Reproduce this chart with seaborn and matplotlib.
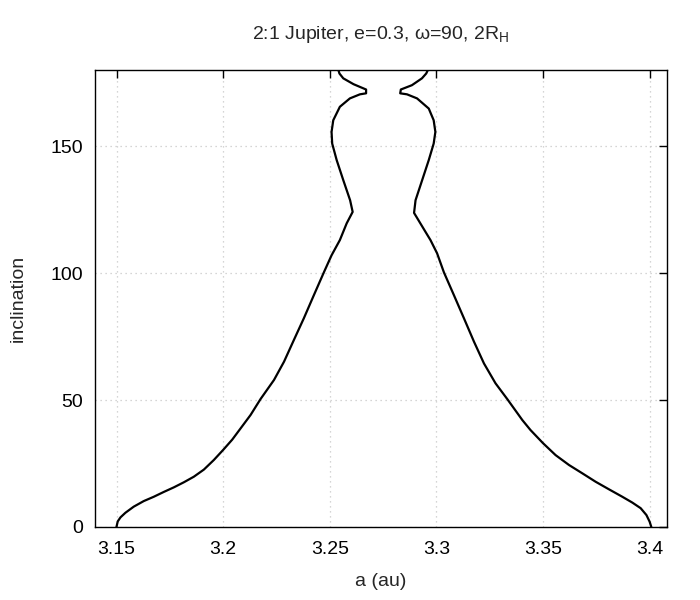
import numpy as np
import pandas as pd
import matplotlib
matplotlib.use('Agg')
import matplotlib.pyplot as plt
import seaborn as sns

# ─────────────────────────────────────────────
# DATA
# ─────────────────────────────────────────────

# left branch, bottom to top
left_a = [3.1499, 3.1505, 3.1518, 3.1541, 3.1580, 3.1627, 3.1674, 3.1721,
          3.1768, 3.1815, 3.1862, 3.1909, 3.1956, 3.2000, 3.2042, 3.2081,
          3.2128, 3.2175, 3.2238, 3.2285, 3.2331, 3.2378, 3.2425, 3.2472,
          3.2508, 3.2547, 3.2579, 3.2607, 3.2595, 3.2563, 3.2532, 3.2511,
          3.2508, 3.2516, 3.2547, 3.2594, 3.2641, 3.2670, 3.2670, 3.2611,
          3.2563, 3.2545, 3.2540]
left_inc = [0.0, 2.2, 3.8, 5.6, 8.0, 10.2, 11.9, 13.8,
            15.6, 17.6, 19.8, 22.6, 26.4, 30.4, 34.4, 38.8,
            44.1, 50.4, 57.9, 65.1, 73.6, 82.2, 91.3, 100.3,
            107.0, 113.0, 119.6, 124.1, 128.7, 136.6, 144.5, 151.0,
            155.6, 160.2, 165.5, 168.8, 170.4, 170.8, 172.3, 174.4,
            176.7, 178.6, 180.0]

# right branch, bottom to top
right_a = [3.4008, 3.4000, 3.3985, 3.3958, 3.3919, 3.3872, 3.3810, 3.3747,
           3.3685, 3.3622, 3.3559, 3.3500, 3.3441, 3.3403, 3.3332, 3.3277,
           3.3223, 3.3176, 3.3129, 3.3082, 3.3035, 3.3003, 3.2972, 3.2946,
           3.2895, 3.2902, 3.2933, 3.2964, 3.2987, 3.2995, 3.2987, 3.2964,
           3.2909, 3.2862, 3.2830, 3.2833, 3.2885, 3.2932, 3.2952, 3.2960]
right_inc = [0.0, 2.1, 4.7, 7.4, 9.6, 11.9, 14.8, 17.8,
             21.1, 24.4, 28.3, 33.0, 38.2, 42.1, 50.4, 56.6,
             64.4, 73.0, 82.2, 91.3, 100.3, 107.8, 113.0, 116.6,
             123.7, 128.7, 136.6, 144.5, 151.0, 155.6, 160.2, 164.8,
             168.8, 170.4, 170.8, 172.3, 174.0, 176.7, 178.6, 180.0]

x_ticks = [3.15, 3.2, 3.25, 3.3, 3.35, 3.4]
x_tick_labels = ['3.15', '3.2', '3.25', '3.3', '3.35', '3.4']
y_ticks = [0, 50, 100, 150]

# ─────────────────────────────────────────────
# PLOT
# ─────────────────────────────────────────────

sns.set_theme(style='white')
plt.rcParams['font.family'] = ['Liberation Sans', 'DejaVu Sans']
plt.rcParams['mathtext.fontset'] = 'custom'
plt.rcParams['mathtext.rm'] = 'Liberation Sans'
plt.rcParams['mathtext.it'] = 'Liberation Sans'

fig = plt.figure(figsize=(7, 6), dpi=100)
ax = fig.add_axes([0.135, 0.1217, 0.818, 0.7617])

sns.lineplot(x=left_a, y=left_inc, sort=False, estimator=None,
             color='black', linewidth=1.6, ax=ax)
sns.lineplot(x=right_a, y=right_inc, sort=False, estimator=None,
             color='black', linewidth=1.6, ax=ax)

ax.set_xlim(3.1396, 3.4082)
ax.set_ylim(0, 180)
ax.set_xticks(x_ticks)
ax.set_xticklabels(x_tick_labels)
ax.set_yticks(y_ticks)

ax.grid(True, color='#c8c8c8', linestyle=(0, (1, 3)), linewidth=0.9)
ax.tick_params(direction='in', length=6, width=1.0, top=True, right=True,
               labelsize=14, colors='black', pad=8)
ax.tick_params(axis='x', pad=10)
for s in ax.spines.values():
    s.set_color('black')
    s.set_linewidth(1.0)

ax.set_xlabel('a (au)', fontsize=14, labelpad=11)
ax.set_ylabel('inclination', fontsize=14, labelpad=17)
ax.set_title(r'2:1 Jupiter, e=0.3, ω=90, 2R$_\mathrm{H}$', fontsize=14, pad=22)

plt.savefig('out.png', dpi=100)
